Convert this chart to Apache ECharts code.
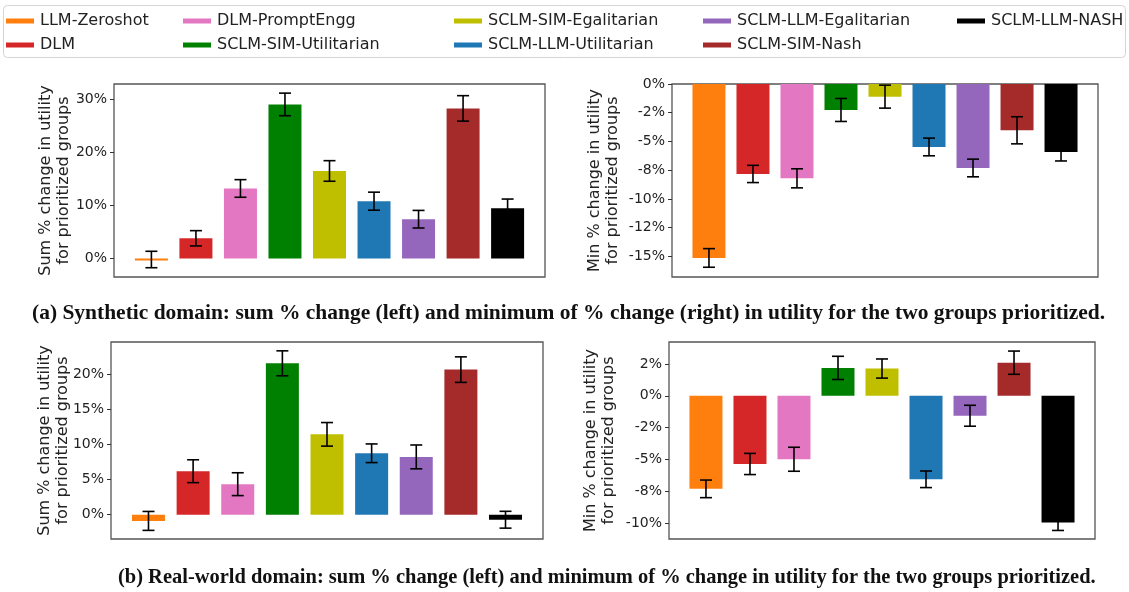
<!DOCTYPE html>
<html>
<head>
<meta charset="utf-8">
<script src="https://cdn.jsdelivr.net/npm/echarts@6/dist/echarts.min.js"></script>
<style>
html,body{margin:0;padding:0;background:#fff;}
#chart{width:1129px;height:592px;}
</style>
</head>
<body>
<div id="chart"></div>
<script>
// ---- data ----
const categories = ['LLM-Zeroshot','DLM','DLM-PromptEngg','SCLM-SIM-Utilitarian','SCLM-SIM-Egalitarian','SCLM-LLM-Utilitarian','SCLM-LLM-Egalitarian','SCLM-SIM-Nash','SCLM-LLM-NASH'];

const synthSum    = [-0.2, 3.8, 13.2, 29.05, 16.5, 10.8, 7.4, 28.3, 9.45];
const synthSumErr = [1.55, 1.44, 1.66, 2.13, 1.94, 1.7, 1.66, 2.4, 1.75];
const synthMin    = [-15.14, -7.83, -8.21, -2.26, -1.10, -5.48, -7.31, -4.03, -5.92];
const synthMinErr = [0.81, 0.75, 0.83, 1.0, 1.0, 0.77, 0.77, 1.18, 0.78];
const realSum     = [-0.88, 6.21, 4.36, 21.6, 11.47, 8.77, 8.25, 20.7, -0.71];
const realSumErr  = [1.35, 1.63, 1.63, 1.78, 1.68, 1.33, 1.7, 1.82, 1.2];
const realMin     = [-7.29, -5.34, -4.97, 2.19, 2.14, -6.54, -1.56, 2.60, -9.92];
const realMinErr  = [0.69, 0.83, 0.94, 0.91, 0.75, 0.65, 0.82, 0.91, 0.63];

const synthSumTicks  = [0, 10, 20, 30];
const synthSumLabels = ['0%', '10%', '20%', '30%'];
const synthMinTicks  = [0, -2.5, -5, -7.5, -10, -12.5, -15];
const synthMinLabels = ['0%', '-2%', '-5%', '-8%', '-10%', '-12%', '-15%'];
const realSumTicks   = [0, 5, 10, 15, 20];
const realSumLabels  = ['0%', '5%', '10%', '15%', '20%'];
const realMinTicks   = [2.5, 0, -2.5, -5, -7.5, -10];
const realMinLabels  = ['2%', '0%', '-2%', '-5%', '-8%', '-10%'];

const synthSumRange = [-3.5, 32.9];
const synthMinRange = [-16.8, 0];
const realSumRange  = [-3.46, 24.64];
const realMinRange  = [-11.22, 4.22];

const captionA = '(a) Synthetic domain: sum % change (left) and minimum of % change (right) in utility for the two groups prioritized.';
const captionB = '(b) Real-world domain: sum % change (left) and minimum of % change in utility for the two groups prioritized.';
const nameSum = 'Sum % change in utility\nfor prioritized groups';
const nameMin = 'Min % change in utility\nfor prioritized groups';

// ---- styles ----
const colors = ['#ff7f0e','#d62728','#e377c2','#008000','#bfbf00','#1f77b4','#9467bd','#a52a2a','#000000'];
const FONT = 'DejaVu Sans';
const grids = [
  {left:114, top:84, width:431, height:193},
  {left:672, top:84, width:426, height:193},
  {left:111, top:342, width:432, height:197},
  {left:669, top:342, width:426, height:197}
];
const nameGaps = [41, 50, 39, 51];
const panels = [
  {vals:synthSum, errs:synthSumErr, ticks:synthSumTicks, labels:synthSumLabels, range:synthSumRange, name:nameSum},
  {vals:synthMin, errs:synthMinErr, ticks:synthMinTicks, labels:synthMinLabels, range:synthMinRange, name:nameMin},
  {vals:realSum, errs:realSumErr, ticks:realSumTicks, labels:realSumLabels, range:realSumRange, name:nameSum},
  {vals:realMin, errs:realMinErr, ticks:realMinTicks, labels:realMinLabels, range:realMinRange, name:nameMin}
];

const chart = echarts.init(document.getElementById('chart'), null, {renderer:'canvas'});

const xAxes = [], yAxes = [], series = [];
function errRender(params, api) {
  const x = api.value(0), v = api.value(1), e = api.value(2);
  const t = api.coord([x, v + e]);
  const b = api.coord([x, v - e]);
  const cap = 6;
  const st = {stroke:'#000', lineWidth:1.6};
  return {type:'group', children:[
    {type:'line', shape:{x1:t[0], y1:t[1], x2:b[0], y2:b[1]}, style:st},
    {type:'line', shape:{x1:t[0]-cap, y1:t[1], x2:t[0]+cap, y2:t[1]}, style:st},
    {type:'line', shape:{x1:b[0]-cap, y1:b[1], x2:b[0]+cap, y2:b[1]}, style:st}
  ]};
}
panels.forEach((p, k) => {
  xAxes.push({type:'value', gridIndex:k, min:-0.84, max:8.84, show:false, axisLine:{onZero:false}});
  yAxes.push({
    type:'value', gridIndex:k, position:'left', min:p.range[0], max:p.range[1],
    name:p.name, nameLocation:'middle', nameRotate:90, nameGap:nameGaps[k], nameMoveOverlap:false,
    nameTextStyle:{fontFamily:FONT, fontSize:16, color:'#222', lineHeight:18},
    axisLine:{show:false, onZero:false},
    splitLine:{show:false},
    axisTick:{show:true, inside:false, length:4, lineStyle:{color:'#333', width:1}, customValues:p.ticks},
    axisLabel:{fontFamily:FONT, fontSize:14, color:'#222', margin:7, customValues:p.ticks,
      formatter:(val) => { const i = p.ticks.findIndex(t => Math.abs(t - val) < 1e-6); return i >= 0 ? p.labels[i] : ''; }}
  });
  categories.forEach((name, i) => {
    series.push({
      type:'bar', name:name, xAxisIndex:k, yAxisIndex:k,
      data:[[i, p.vals[i]]], barWidth:33, barGap:'-100%', barMinHeight:2,
      itemStyle:{color:colors[i]},
      silent:true, animation:false
    });
  });
  series.push({
    type:'custom', xAxisIndex:k, yAxisIndex:k, z:10, silent:true, animation:false,
    data:p.vals.map((v, i) => [i, v, p.errs[i]]),
    encode:{x:0, y:1}, renderItem:errRender
  });
});

const legendCols = [
  {left:6, names:[categories[0], categories[1]]},
  {left:183, names:[categories[2], categories[3]]},
  {left:454, names:[categories[4], categories[5]]},
  {left:703, names:[categories[6], categories[7]]},
  {left:957, names:[categories[8]]}
];
const legends = legendCols.map(c => ({
  orient:'vertical', left:c.left, top:13, padding:0, itemGap:8,
  itemWidth:28, itemHeight:5, icon:'rect', selectedMode:false,
  textStyle:{fontFamily:FONT, fontSize:16, color:'#222', padding:[0,0,0,1]},
  data:c.names
}));

chart.setOption({
  animation:false,
  backgroundColor:'#fff',
  grid:grids.map(g => Object.assign({show:true, borderColor:'#555', borderWidth:1.3, backgroundColor:'transparent', containLabel:false}, g)),
  xAxis:xAxes,
  yAxis:yAxes,
  legend:legends,
  graphic:[
    {type:'rect', z:-1, shape:{x:3.5, y:5.5, width:1122, height:52, r:4}, style:{fill:'#fff', stroke:'#d4d4d4', lineWidth:1}},
    {type:'text', x:32, y:302, scaleX:0.976, style:{text:captionA, fontFamily:'Liberation Serif', fontWeight:'bold', fontSize:22, fill:'#111'}},
    {type:'text', x:118, y:566, scaleX:0.93, style:{text:captionB, fontFamily:'Liberation Serif', fontWeight:'bold', fontSize:22, fill:'#111'}}
  ],
  series:series
});
</script>
</body>
</html>
